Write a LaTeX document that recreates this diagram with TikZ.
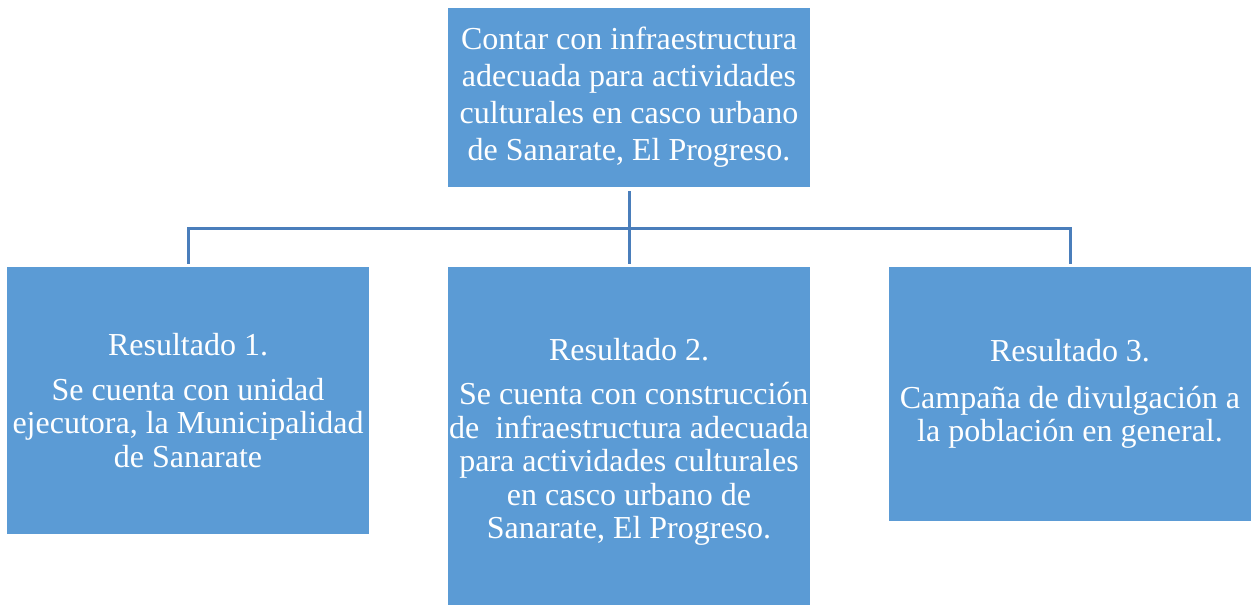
\documentclass[tikz,border=0pt]{standalone}
\usepackage{fontspec}
\setmainfont{Liberation Serif}
\newfontfamily\tnr{Liberation Serif}
\definecolor{boxblue}{RGB}{91,155,213}
\definecolor{lineblue}{RGB}{74,126,187}
\begin{document}
\begin{tikzpicture}[x=1pt,y=1pt,
  box/.style={fill=boxblue, draw=none, text=white, minimum width=362pt, inner sep=0pt, align=center,
    font=\tnr\fontsize{32}{33.5}\selectfont},
  conn/.style={draw=lineblue, line width=3pt}]
\useasboundingbox (0,0) rectangle (1253,-605);
\node[box, minimum height=179pt, font=\tnr\fontsize{32}{37}\selectfont] (top) at (629,-97.5)
  {Contar con infraestructura\\adecuada para actividades\\culturales en casco urbano\\de Sanarate, El Progreso.};
\node[box, minimum height=267pt] (r1) at (188,-400.5)
  {Resultado 1.\\[11pt]Se cuenta con unidad\\ejecutora, la Municipalidad\\de Sanarate};
\node[box, minimum height=350pt] (r2) at (629,-442)
  {Resultado 2.\\[11pt]\hspace*{0.3em}Se cuenta con construcción\\de\ \ infraestructura adecuada\\para actividades culturales\\en casco urbano de\\Sanarate, El Progreso.};
\node[box, minimum height=254pt] (r3) at (1070,-394)
  {Resultado 3.\\[13pt]Campaña de divulgación a\\la población en general.};
\coordinate (j) at (629,-228);
\draw[conn] ([yshift=-4pt]top.south) -- ([yshift=3pt]r2.north);
\draw[conn] ([yshift=3pt]r1.north) |- (j) -| ([yshift=3pt]r3.north);
\end{tikzpicture}
\end{document}
